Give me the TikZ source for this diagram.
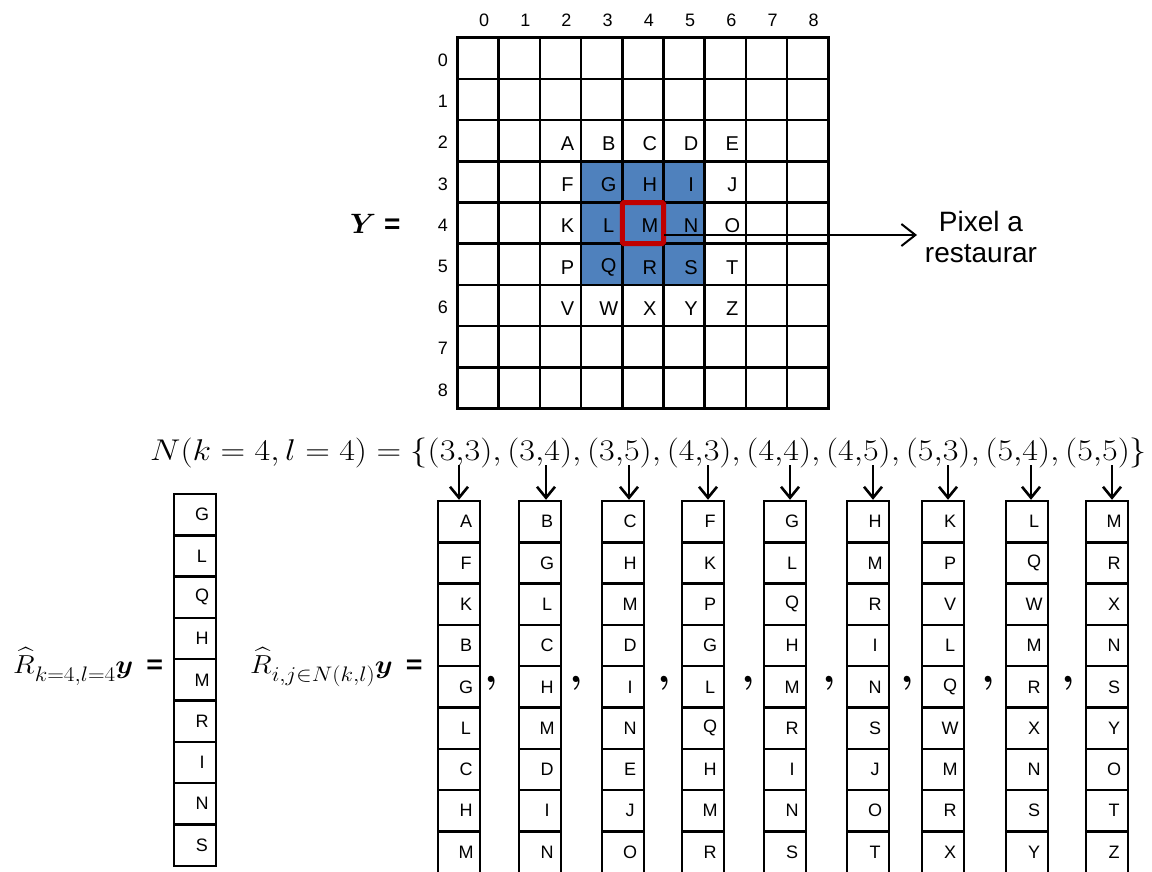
\RequirePackage{fix-cm}
\documentclass[tikz,border=0pt]{standalone}
\usepackage{amsmath,bm}
\usepackage{fontspec}
\setmainfont{Liberation Sans}
\usetikzlibrary{arrows.meta}
\definecolor{cellblue}{HTML}{4F81BD}
\definecolor{boxred}{HTML}{C00000}
\newcommand{\bigsub}[1]{\raisebox{-8pt}{\fontsize{21}{24}\selectfont$#1$}}
\begin{document}
\begin{tikzpicture}[x=1pt,y=-1pt,
  gl/.style={line width=2.7pt, line cap=rect},
  glet/.style={font=\fontsize{20}{24}\selectfont, inner sep=0pt},
  gnum/.style={font=\fontsize{18}{22}\selectfont, inner sep=0pt},
  vcell/.style={draw, line width=2.4pt, minimum width=42pt, minimum height=41.3pt, inner sep=0pt, font=\fontsize{18}{22}\selectfont},
  darr/.style={line width=2.6pt, -{Straight Barb[length=11pt,width=18pt,line width=2.6pt]}},
  parr/.style={line width=2pt, -{Straight Barb[length=14pt,width=22pt,line width=2pt]}},
  comma/.style={font=\fontsize{40}{44}\selectfont, inner sep=0pt},
  lbl/.style={font=\fontsize{26}{30}\selectfont, inner sep=0pt},
]
\useasboundingbox (0,0) rectangle (1152,871);
\clip (0,0) rectangle (1152,871);
\fill[white] (0,0) rectangle (1152,871);

% blue neighbourhood
\fill[cellblue] ({457.5+41.2*3},{37.7+41.2*3}) rectangle ({457.5+41.2*6},{37.7+41.2*6});

% grid
\foreach \i in {0,...,9} {
  \draw[gl] ({457.5+41.2*\i},37.7) -- ({457.5+41.2*\i},{37.7+41.2*9});
  \draw[gl] (457.5,{37.7+41.2*\i}) -- ({457.5+41.2*9},{37.7+41.2*\i});
}
% axis numbers
\foreach \i in {0,...,8} {
  \node[gnum] (cn\i) at ({457.5+41.2*\i+20.6+6},20) {\i};
  \node[gnum] (rn\i) at (443,{37.7+41.2*\i+20.6+2}) {\i};
}
% grid letters
\foreach \t [count=\i from 0] in {A,B,C,D,E,F,G,H,I,J,K,L,M,N,O,P,Q,R,S,T,V,W,X,Y,Z} {
  \pgfmathtruncatemacro\rr{2+div(\i,5)}
  \pgfmathtruncatemacro\cc{2+mod(\i,5)}
  \node[glet] (g\t) at ({457.5+41.2*\cc+20.6+7},{37.7+41.2*\rr+20.6+3}) {\t};
}
% red box
\draw[boxred, line width=5pt, rounded corners=1.5pt] ({457.5+41.2*4},{37.7+41.2*4}) rectangle ({457.5+41.2*5},{37.7+41.2*5});

% arrow to label
\coordinate (pstart) at (664,235);
\coordinate (pend) at (917,235);
\draw[parr] (pstart) -- (pend);
\node[font=\fontsize{28}{31}\selectfont, align=center, inner sep=0pt] (pix) at (981,237) {Pixel a\\restaurar};

% Y label
\node[font=\fontsize{28}{32}\selectfont, inner sep=0pt, anchor=base west] (Ylab) at (350,233) {$\bm{Y}$ \textbf{=}};

% neighbourhood set
\node[font=\fontsize{30}{36}\selectfont, inner sep=0pt, anchor=base west] (Nset) at (150,460)
  {\scalebox{1.137}[1]{$N(k=4,l=4)=\{(3{,}3),(3{,}4),(3{,}5),(4{,}3),(4{,}4),(4{,}5),(5{,}3),(5{,}4),(5{,}5)\}$}};

% left vector
\node[lbl, anchor=base west] (R1) at (13,673) {\scalebox{1.1}[1]{$\widehat{R}$\bigsub{k{=}4{,}l{=}4}$\bm{y}$\hspace{12pt}\textbf{=}}};
\foreach \t [count=\j from 0] in {G,L,Q,H,M,R,I,N,S} {
  \node[vcell] (u\j) at (195,{494+41.3*\j+20.65}) {\hspace*{14pt}\t};
}

% right label
\node[lbl, anchor=base west] (R2) at (250,673) {\scalebox{1.1}[1]{$\widehat{R}$\bigsub{i{,}j{\in}N(k{,}l)}$\bm{y}$\hspace{12pt}\textbf{=}}};

% patch vectors
\foreach \xl/\ax/\lst [count=\k] in {
  438/459/{A,F,K,B,G,L,C,H,M},
  519/546/{B,G,L,C,H,M,D,I,N},
  602/629/{C,H,M,D,I,N,E,J,O},
  682/708/{F,K,P,G,L,Q,H,M,R},
  764/790/{G,L,Q,H,M,R,I,N,S},
  847/873/{H,M,R,I,N,S,J,O,T},
  922/948/{K,P,V,L,Q,W,M,R,X},
  1006/1031/{L,Q,W,M,R,X,N,S,Y},
  1086/1112/{M,R,X,N,S,Y,O,T,Z}} {
  \foreach \t [count=\j from 0] in \lst {
    \node[vcell] (v\k-\j) at ({\xl+21},{501+41.3*\j+20.65}) {\hspace*{14pt}\t};
  }
  \coordinate (a\k) at (\ax,465);
  \draw[darr] (a\k) -- (a\k |- v\k-0.north);
}

% commas
\foreach \cx [count=\k] in {491,576,664,748,829,907,988,1068} {
  \node[comma] (c\k) at (\cx,683) {$\bm{,}$};
}
\end{tikzpicture}
\end{document}
